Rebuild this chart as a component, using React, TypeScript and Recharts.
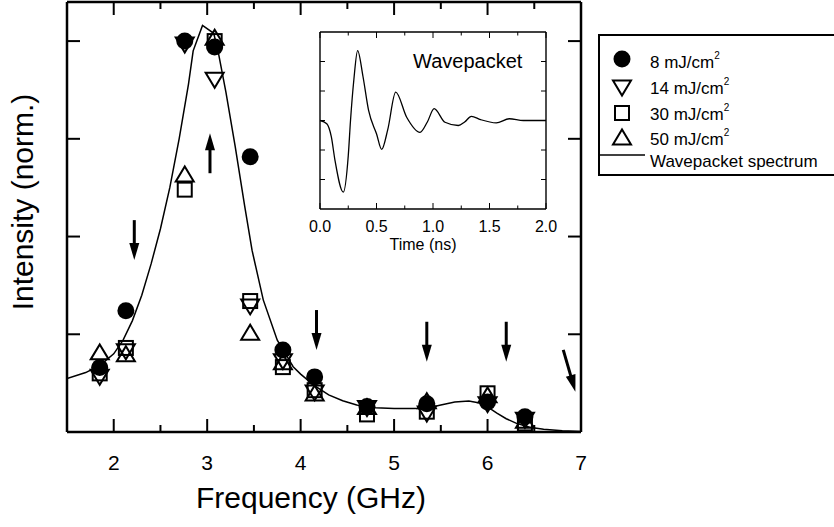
import {
  ComposedChart,
  LineChart,
  Line,
  Scatter,
  XAxis,
  YAxis,
  ReferenceLine,
  Legend,
} from "recharts";

// Measured peak intensities (normalised) for each pump fluence
const freqGHz = [1.85, 2.13, 2.76, 3.08, 3.46, 3.81, 4.15, 4.71, 5.35, 6.0, 6.4];
const int8 = [0.165, 0.31, 1.0, 0.985, 0.704, 0.21, 0.141, 0.065, 0.072, 0.077, 0.039];
const int14 = [0.14, 0.205, 0.99, 0.9, 0.32, 0.18, 0.1, 0.06, 0.046, 0.07, 0.03];
const int30 = [0.15, 0.215, 0.62, 1.0, 0.335, 0.166, 0.107, 0.045, 0.052, 0.099, 0.022];
const int50 = [0.205, 0.2, 0.66, 1.01, 0.255, 0.18, 0.1, 0.065, 0.08, 0.095, 0.03];

// Fourier spectrum of the wavepacket
const spectrumFreq = [
  1.5, 1.7, 1.85, 2.0, 2.1, 2.2, 2.3, 2.4, 2.5, 2.6, 2.7, 2.8, 2.85, 2.95, 3.07,
  3.12, 3.2, 3.3, 3.4, 3.48, 3.6, 3.75, 3.92, 4.0, 4.14, 4.3, 4.45, 4.6, 4.8, 5.0,
  5.2, 5.35, 5.5, 5.65, 5.8, 5.9, 6.0, 6.1, 6.2, 6.31, 6.45, 6.6, 6.8, 7.0,
];
const spectrumInt = [
  0.137, 0.152, 0.17, 0.2, 0.235, 0.285, 0.35, 0.43, 0.52, 0.625, 0.75, 0.89, 0.975,
  1.04, 1.02, 0.97, 0.87, 0.73, 0.58, 0.465, 0.338, 0.235, 0.167, 0.148, 0.12, 0.095,
  0.08, 0.069, 0.062, 0.06, 0.06, 0.061, 0.069, 0.077, 0.079, 0.075, 0.064, 0.048,
  0.034, 0.022, 0.012, 0.007, 0.003, 0.001,
];

// Arrows marking mode positions (tail -> head)
const arrowFreqFrom = [2.22, 3.03, 4.17, 5.35, 6.2, 6.81];
const arrowIntFrom = [0.542, 0.662, 0.312, 0.282, 0.282, 0.21];
const arrowFreqTo = [2.22, 3.03, 4.17, 5.35, 6.2, 6.94];
const arrowIntTo = [0.44, 0.764, 0.21, 0.18, 0.18, 0.103];

// Time-domain wavepacket (inset)
const wpTime = [
  0, 0.06, 0.1, 0.133, 0.206, 0.25, 0.27, 0.3, 0.333, 0.38, 0.43, 0.5, 0.546, 0.6,
  0.67, 0.767, 0.885, 0.95, 1.01, 1.106, 1.224, 1.28, 1.34, 1.42, 1.56, 1.675, 1.8, 2.0,
];
const wpAmp = [
  0, -0.11, -0.55, -1.36, -2.43, -1.2, 0, 1.4, 2.37, 1.5, 0.34, -0.45, -0.98, -0.3,
  0.96, 0.11, -0.4, -0.05, 0.4, -0.06, -0.17, -0.05, 0.14, 0.03, -0.08, 0.06, 0.0, 0.0,
];

const freqTicks = [1.5, 2, 2.5, 3, 3.5, 4, 4.5, 5, 5.5, 6, 6.5, 7];
const intTicks = [0.25, 0.5, 0.75, 1.0];
const timeTicks = [0, 0.25, 0.5, 0.75, 1, 1.25, 1.5, 1.75, 2];
const ampTicks = [-2, -1, 0, 1, 2];

const toPoints = (xs: number[], ys: number[]) => xs.map((f, i) => ({ f, v: ys[i] }));
const series8 = toPoints(freqGHz, int8);
const series14 = toPoints(freqGHz, int14);
const series30 = toPoints(freqGHz, int30);
const series50 = toPoints(freqGHz, int50);
const spectrum = toPoints(spectrumFreq, spectrumInt);
const wavepacket = wpTime.map((t, i) => ({ t, a: wpAmp[i] }));

const FONT = "'Liberation Sans', Arial, Helvetica, sans-serif";
const INK = "#000";

// ---- markers ----
const FilledCircle = ({ cx, cy }: any) => <circle cx={cx} cy={cy} r={8.5} fill={INK} />;
const DownTriangle = ({ cx, cy }: any) => (
  <polygon
    points={`${cx - 9},${cy - 7.5} ${cx + 9},${cy - 7.5} ${cx},${cy + 7.5}`}
    fill="none"
    stroke={INK}
    strokeWidth={2}
  />
);
const UpTriangle = ({ cx, cy }: any) => (
  <polygon
    points={`${cx - 9},${cy + 7.5} ${cx + 9},${cy + 7.5} ${cx},${cy - 7.5}`}
    fill="none"
    stroke={INK}
    strokeWidth={2}
  />
);
const OpenSquare = ({ cx, cy }: any) => (
  <rect x={cx - 7} y={cy - 7} width={14} height={14} fill="none" stroke={INK} strokeWidth={2} />
);

// ---- inward ticks for the main frame ----
const isMajor = (v: number) => Number.isInteger(v);

const BottomTick = ({ x, y, payload }: any) => {
  const major = isMajor(payload.value);
  return (
    <g>
      <line x1={x} x2={x} y1={y} y2={y - (major ? 13 : 7)} stroke={INK} strokeWidth={2} />
      {major && (
        <text x={x} y={y + 38} textAnchor="middle" fontSize={21} fill={INK}>
          {payload.value}
        </text>
      )}
    </g>
  );
};
const TopTick = ({ x, y, payload }: any) => (
  <line x1={x} x2={x} y1={y} y2={y + (isMajor(payload.value) ? 13 : 7)} stroke={INK} strokeWidth={2} />
);
const LeftTick = ({ x, y }: any) => (
  <line x1={x} x2={x + 13} y1={y} y2={y} stroke={INK} strokeWidth={2} />
);
const RightTick = ({ x, y }: any) => (
  <line x1={x} x2={x - 13} y1={y} y2={y} stroke={INK} strokeWidth={2} />
);

// ---- inset ticks ----
const isHalf = (v: number) => Math.abs(v * 2 - Math.round(v * 2)) < 1e-6;
const InsetBottomTick = ({ x, y, payload }: any) => {
  const major = isHalf(payload.value);
  return (
    <g>
      <line x1={x} x2={x} y1={y} y2={y - (major ? 6 : 3.5)} stroke={INK} strokeWidth={1} />
      {major && (
        <text x={x} y={y + 23} textAnchor="middle" fontSize={16} fill={INK}>
          {payload.value.toFixed(1)}
        </text>
      )}
    </g>
  );
};
const InsetTopTick = ({ x, y, payload }: any) => (
  <line x1={x} x2={x} y1={y} y2={y + (isHalf(payload.value) ? 6 : 3.5)} stroke={INK} strokeWidth={1} />
);
const InsetLeftTick = ({ x, y }: any) => (
  <line x1={x} x2={x + 5} y1={y} y2={y} stroke={INK} strokeWidth={1} />
);
const InsetRightTick = ({ x, y }: any) => (
  <line x1={x} x2={x - 5} y1={y} y2={y} stroke={INK} strokeWidth={1} />
);

// arrow drawn between the two segment end points, head at the second one
const Arrow = ({ x1, y1, x2, y2 }: any) => {
  const dx = x2 - x1;
  const dy = y2 - y1;
  const len = Math.hypot(dx, dy) || 1;
  const ux = dx / len;
  const uy = dy / len;
  const headLen = 17;
  const half = 5;
  const bx = x2 - ux * headLen;
  const by = y2 - uy * headLen;
  return (
    <g>
      <line x1={x1} y1={y1} x2={bx + ux} y2={by + uy} stroke={INK} strokeWidth={3} />
      <polygon
        points={`${x2},${y2} ${bx - uy * half},${by + ux * half} ${bx + uy * half},${by - ux * half}`}
        fill={INK}
      />
    </g>
  );
};

const FreqTitle = ({ viewBox }: any) => (
  <text
    x={viewBox.x + viewBox.width / 2 - 13}
    y={viewBox.y + 76}
    textAnchor="middle"
    fontSize={30}
    fill={INK}
  >
    Frequency (GHz)
  </text>
);
const IntensityTitle = ({ viewBox }: any) => {
  const cx = 33;
  const cy = viewBox.y + viewBox.height / 2 - 15;
  return (
    <text x={cx} y={cy} transform={`rotate(-90, ${cx}, ${cy})`} textAnchor="middle" fontSize={30} fill={INK}>
      Intensity (norm.)
    </text>
  );
};
const TimeTitle = ({ viewBox }: any) => (
  <text x={viewBox.x + viewBox.width / 2 - 10} y={viewBox.y + 41} textAnchor="middle" fontSize={16} fill={INK}>
    Time (ns)
  </text>
);
const WavepacketTag = ({ viewBox }: any) => (
  <text x={viewBox.x + 93} y={viewBox.y + 37} fontSize={20} fill={INK}>
    Wavepacket
  </text>
);

const legendRows = [
  { label: "8 mJ/cm", Marker: FilledCircle, cy: 25, base: 34 },
  { label: "14 mJ/cm", Marker: DownTriangle, cy: 54, base: 60 },
  { label: "30 mJ/cm", Marker: OpenSquare, cy: 79, base: 86 },
  { label: "50 mJ/cm", Marker: UpTriangle, cy: 103, base: 111 },
];

// legend box runs off the right edge of the page, so only three sides are drawn
const FluenceLegend = () => (
  <svg width={236} height={145} style={{ display: "block", fontFamily: FONT }}>
    <path d="M236,1 H1 V141 H236" fill="#fff" stroke={INK} strokeWidth={2} />
    {legendRows.map(({ label, Marker, cy, base }) => (
      <g key={label}>
        <Marker cx={24} cy={cy} />
        <text x={52} y={base} fontSize={17} fill={INK}>
          {label}
          <tspan fontSize={10} dy={-9}>
            2
          </tspan>
        </text>
      </g>
    ))}
    <line x1={0} x2={47} y1={121} y2={121} stroke={INK} strokeWidth={1.5} />
    <text x={52} y={133} fontSize={17} fill={INK}>
      Wavepacket spectrum
    </text>
  </svg>
);

const frameLine = { stroke: INK, strokeWidth: 2.5 };
const insetLine = { stroke: INK, strokeWidth: 1.4 };

export default function App() {
  return (
    <div
      style={{
        position: "absolute",
        left: 0,
        top: 0,
        width: 834,
        height: 527,
        overflow: "hidden",
        background: "#fff",
        fontFamily: FONT,
      }}
    >
      <ComposedChart width={834} height={527} margin={{ top: 1, right: 252, bottom: 0, left: 0 }}>
        <XAxis
          dataKey="f"
          type="number"
          domain={[1.5, 7]}
          ticks={freqTicks}
          interval={0}
          height={95}
          tickSize={0}
          tickMargin={0}
          tickLine={false}
          axisLine={frameLine}
          tick={<BottomTick />}
          label={{ content: <FreqTitle /> }}
          allowDataOverflow
        />
        <XAxis
          xAxisId="top"
          dataKey="f"
          orientation="top"
          type="number"
          domain={[1.5, 7]}
          ticks={freqTicks}
          interval={0}
          height={1}
          tickSize={0}
          tickMargin={0}
          tickLine={false}
          axisLine={frameLine}
          tick={<TopTick />}
          allowDataOverflow
        />
        <YAxis
          dataKey="v"
          type="number"
          domain={[0, 1.1]}
          ticks={intTicks}
          interval={0}
          width={67}
          tickSize={0}
          tickMargin={0}
          tickLine={false}
          axisLine={frameLine}
          tick={<LeftTick />}
          label={{ content: <IntensityTitle /> }}
          allowDataOverflow
        />
        <YAxis
          yAxisId="right"
          dataKey="v"
          orientation="right"
          type="number"
          domain={[0, 1.1]}
          ticks={intTicks}
          interval={0}
          width={1}
          tickSize={0}
          tickMargin={0}
          tickLine={false}
          axisLine={frameLine}
          tick={<RightTick />}
          allowDataOverflow
        />

        {/* invisible copy of the spectrum that anchors the mirrored top/right axes */}
        <Line
          data={spectrum}
          dataKey="v"
          xAxisId="top"
          yAxisId="right"
          stroke="none"
          dot={false}
          activeDot={false}
          legendType="none"
          isAnimationActive={false}
        />
        <Line
          data={spectrum}
          dataKey="v"
          type="linear"
          stroke={INK}
          strokeWidth={1.5}
          dot={false}
          activeDot={false}
          isAnimationActive={false}
        />
        <Scatter data={series50} dataKey="v" shape={<UpTriangle />} isAnimationActive={false} />
        <Scatter data={series30} dataKey="v" shape={<OpenSquare />} isAnimationActive={false} />
        <Scatter data={series14} dataKey="v" shape={<DownTriangle />} isAnimationActive={false} />
        <Scatter data={series8} dataKey="v" shape={<FilledCircle />} isAnimationActive={false} />

        {arrowFreqFrom.map((f, i) => (
          <ReferenceLine
            key={`arrow-${i}`}
            segment={[
              { x: f, y: arrowIntFrom[i] },
              { x: arrowFreqTo[i], y: arrowIntTo[i] },
            ]}
            ifOverflow="visible"
            shape={(p: any) => <Arrow {...p} />}
          />
        ))}

        <Legend
          layout="vertical"
          align="center"
          verticalAlign="middle"
          width={236}
          height={145}
          wrapperStyle={{ left: 598, top: 34, width: 236, height: 145 }}
          content={() => <FluenceLegend />}
        />
      </ComposedChart>

      <div style={{ position: "absolute", left: 300, top: 20 }}>
        <LineChart width={260} height={250} data={wavepacket} margin={{ top: 11, right: 13, bottom: 0, left: 19 }}>
          <XAxis
            dataKey="t"
            type="number"
            domain={[0, 2]}
            ticks={timeTicks}
            interval={0}
            height={61}
            tickSize={0}
            tickMargin={0}
            tickLine={false}
            axisLine={insetLine}
            tick={<InsetBottomTick />}
            label={{ content: <TimeTitle /> }}
          />
          <XAxis
            xAxisId="top"
            dataKey="t"
            orientation="top"
            type="number"
            domain={[0, 2]}
            ticks={timeTicks}
            interval={0}
            height={1}
            tickSize={0}
            tickMargin={0}
            tickLine={false}
            axisLine={insetLine}
            tick={<InsetTopTick />}
            label={{ content: <WavepacketTag /> }}
          />
          <YAxis
            type="number"
            domain={[-3, 3]}
            ticks={ampTicks}
            interval={0}
            width={1}
            tickSize={0}
            tickMargin={0}
            tickLine={false}
            axisLine={insetLine}
            tick={<InsetLeftTick />}
          />
          <YAxis
            yAxisId="right"
            orientation="right"
            type="number"
            domain={[-3, 3]}
            ticks={ampTicks}
            interval={0}
            width={1}
            tickSize={0}
            tickMargin={0}
            tickLine={false}
            axisLine={insetLine}
            tick={<InsetRightTick />}
          />
          <Line
            dataKey="a"
            xAxisId="top"
            yAxisId="right"
            stroke="none"
            dot={false}
            activeDot={false}
            isAnimationActive={false}
          />
          <Line
            dataKey="a"
            type="monotone"
            stroke={INK}
            strokeWidth={1.3}
            dot={false}
            activeDot={false}
            isAnimationActive={false}
          />
        </LineChart>
      </div>
    </div>
  );
}
